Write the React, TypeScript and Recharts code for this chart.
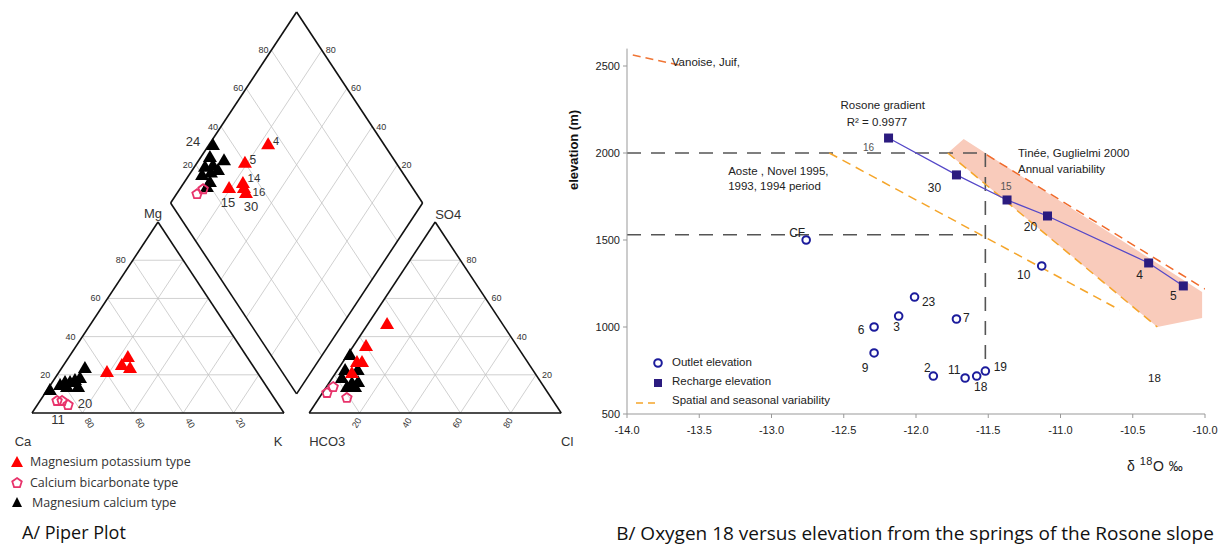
import React from "react";
import {
  Area,
  ComposedChart,
  Line,
  ReferenceLine,
  Scatter,
  ScatterChart,
  XAxis,
  YAxis,
} from "recharts";

const FONT = "'Liberation Sans', Arial, sans-serif";
const TITLE_FONT = "'Open Sans', 'Noto Sans', sans-serif";
const H = Math.sqrt(3) / 2;
const PIPER_TICKS = [20, 40, 60, 80];

// cation triangle, [Mg %, Na+K %]
const catMgK = [[21.5, 19.0], [25.1, 23.1], [29.3, 23.4], [23.6, 27.1]];
const catCaHCO3 = [[6.3, 6.8], [6.3, 8.8], [4.2, 12.2]];
const catMgCa = [
  [12.0, 1.1], [23.6, 9.2], [16.2, 5.0], [16.2, 7.0], [17.3, 8.4],
  [18.3, 9.9], [14.7, 3.8], [13.6, 7.1], [13.6, 11.5],
];

// anion triangle, [SO4 %, Cl %]
const aniMgK = [[46.6, 7.6], [35.1, 5.0], [26.7, 5.6], [26.7, 7.6], [20.9, 6.5]];
const aniCaHCO3 = [[10.5, 1.8], [13.6, 2.7], [7.9, 11.0]];
const aniMgCa = [
  [30.4, 1.0], [22.5, 3.0], [18.3, 3.8], [15.7, 9.1], [16.2, 11.3],
  [13.6, 8.2], [13.6, 11.4], [22.5, 8.0],
];

// diamond, [Na+K %, Cl+SO4 %]
const diaMgKIds = ["4", "5", "14", "15", "16", "30"];
const diaMgK = [[23.3, 54.1], [19.0, 40.0], [23.5, 33.9], [19.3, 27.1], [25.2, 33.0], [27.3, 32.5]];
const diaCaHCO3 = [[9.3, 16.5], [8.2, 12.8]];
const diaMgCa = [
  [1.6, 32], [3.6, 27.6], [10, 32.4], [4.2, 23.1], [6.9, 26.7],
  [5.2, 19.8], [10.2, 27.4], [10.1, 21.1], [10.2, 18.6], [8, 24],
];

// right panel
const O18_TICKS = [-14, -13.5, -13, -12.5, -12, -11.5, -11, -10.5, -10];
const ELEV_TICKS = [500, 1000, 1500, 2000, 2500];

const outletIds = ["CF", "23", "3", "6", "7", "9", "2", "11", "18", "19", "10"];
const outletO18 = [-12.76, -12.01, -12.12, -12.29, -11.72, -12.29, -11.88, -11.66, -11.58, -11.52, -11.13];
const outletElev = [1500, 1172, 1063, 1000, 1046, 851, 718, 707, 718, 747, 1351];

const rechargeIds = ["16", "30", "15", "20", "4", "5"];
const rechargeO18 = [-12.19, -11.72, -11.37, -11.09, -10.39, -10.15];
const rechargeElev = [2086, 1874, 1730, 1638, 1368, 1236];

const vanoise = [[-13.96, 2563], [-13.61, 2500]];
const aoste = [[-12.6, 2000], [-10.59, 1098]];
const tineeLow = [[-11.78, 2000], [-10.33, 1000]];
const tineeHigh = [[-11.51, 1989], [-10.0, 1218]];

const bandO18 = [-11.78, -11.67, -10.33, -10.02];
const bandLow = [2000, 1924, 1000, 1052];
const bandHigh = [2000, 2080, 1366, 1201];

const refElev = [2000, 1530];
const refO18 = -11.52;
const refBottom = 760;

// ---- piper geometry (triangle side = 100 units) ----
type P = { x: number; y: number };
const cat = ([mg, k]: number[]): P => ({ x: k + mg / 2, y: mg * H });
const ani = ([so4, cl]: number[]): P => ({ x: 110 + cl + so4 / 2, y: so4 * H });
const dia = ([u, v]: number[]): P => ({ x: 55 + (u + v) / 2, y: 110 * H + (v - u) * H });

const segs: { a: P; b: P; grid: boolean }[] = [];
[0, 110].forEach((ox) => {
  PIPER_TICKS.forEach((k) => {
    segs.push({ a: { x: ox + k / 2, y: k * H }, b: { x: ox + 100 - k / 2, y: k * H }, grid: true });
    segs.push({ a: { x: ox + k, y: 0 }, b: { x: ox + k + (100 - k) / 2, y: (100 - k) * H }, grid: true });
    segs.push({ a: { x: ox + 100 - k, y: 0 }, b: { x: ox + (100 - k) / 2, y: (100 - k) * H }, grid: true });
  });
  const c = [{ x: ox, y: 0 }, { x: ox + 100, y: 0 }, { x: ox + 50, y: 100 * H }];
  c.forEach((p, i) => segs.push({ a: p, b: c[(i + 1) % 3], grid: false }));
});
PIPER_TICKS.forEach((k) => {
  segs.push({ a: dia([k, 0]), b: dia([k, 100]), grid: true });
  segs.push({ a: dia([0, k]), b: dia([100, k]), grid: true });
});
const dc = [dia([0, 0]), dia([100, 0]), dia([100, 100]), dia([0, 100])];
dc.forEach((p, i) => segs.push({ a: p, b: dc[(i + 1) % 4], grid: false }));

type Lbl = P & { t: string; dx?: number; dy?: number; anchor?: string; rot?: number; size?: number; fill?: string };

const piperLabels: Lbl[] = [];
PIPER_TICKS.forEach((k) => {
  piperLabels.push({ ...cat([k, 0]), t: String(k), dx: -7, dy: 0, anchor: "end" });
  piperLabels.push({ ...cat([0, 100 - k]), t: String(k), dx: 7, dy: 10, rot: 60 });
  piperLabels.push({ ...ani([0, k]), t: String(k), dx: -3, dy: 10, rot: -60 });
  piperLabels.push({ ...ani([k, 100 - k]), t: String(k), dx: 6, dy: 0, anchor: "start" });
  piperLabels.push({ ...dia([0, k]), t: String(k), dx: -3, dy: 0, anchor: "end" });
  piperLabels.push({ ...dia([100 - k, 100]), t: String(k), dx: 4, dy: 0, anchor: "start" });
});
const corner = (p: P, t: string, dx: number, dy: number): Lbl => ({ ...p, t, dx, dy, size: 13 });
piperLabels.push(
  corner({ x: 50, y: 100 * H }, "Mg", -5, -9),
  corner({ x: 160, y: 100 * H }, "SO4", 13, -8),
  corner({ x: 0, y: 0 }, "Ca", -9, 28),
  corner({ x: 100, y: 0 }, "K", -6, 28),
  corner({ x: 110, y: 0 }, "HCO3", 18, 28),
  corner({ x: 210, y: 0 }, "Cl", 6, 28),
);
// sample numbers
const sampleOffsets: Record<string, [number, number, number]> = {
  "4": [8, -3, 11], "5": [8, -3, 12], "14": [11, -5, 11.5],
  "15": [-1, 14, 13], "16": [15, 4, 11.5], "30": [5, 13, 13],
};
diaMgK.forEach((d, i) => {
  const [dx, dy, size] = sampleOffsets[diaMgKIds[i]];
  piperLabels.push({ ...dia(d), t: diaMgKIds[i], dx, dy, size });
});
piperLabels.push({ ...dia(diaMgCa[0]), t: "24", dx: -20, dy: -3, size: 13 });
piperLabels.push({ ...cat(catCaHCO3[2]), t: "20", dx: 17, dy: -1, size: 13 });
piperLabels.push({ ...cat(catCaHCO3[0]), t: "11", dx: 1, dy: 19, size: 13 });

function TextMark(props: any) {
  const { cx, cy, payload } = props;
  if (cx == null || cy == null) return null;
  const x = cx + (payload.dx ?? 0);
  const y = cy + (payload.dy ?? 0);
  return (
    <text
      x={x}
      y={y}
      textAnchor={payload.anchor ?? "middle"}
      dominantBaseline="central"
      fontSize={payload.size ?? 9}
      fill={payload.fill ?? "#333"}
      fontFamily={FONT}
      transform={payload.rot ? `rotate(${payload.rot} ${x} ${y})` : undefined}
    >
      {payload.t}
    </text>
  );
}

const triShape = (fill: string) => (p: any) =>
  <polygon points={`${p.cx},${p.cy - 7} ${p.cx + 7},${p.cy + 5} ${p.cx - 7},${p.cy + 5}`} fill={fill} />;

const pentaPts = (cx: number, cy: number, r: number) =>
  [0, 1, 2, 3, 4]
    .map((i) => {
      const a = ((-90 + 72 * i) * Math.PI) / 180;
      return `${cx + r * Math.cos(a)},${cy + r * Math.sin(a)}`;
    })
    .join(" ");
const pentaShape = (p: any) =>
  <polygon points={pentaPts(p.cx, p.cy, 5)} fill="none" stroke="#e8336b" strokeWidth={1.8} />;

const RED = "#ff0000";
const PINK = "#e8336b";

function PiperPlot() {
  const mgK = [...catMgK.map(cat), ...aniMgK.map(ani), ...diaMgK.map(dia)];
  const caHCO3 = [...catCaHCO3.map(cat), ...aniCaHCO3.map(ani), ...diaCaHCO3.map(dia)];
  const mgCa = [...catMgCa.map(cat), ...aniMgCa.map(ani), ...diaMgCa.map(dia)];
  return (
    <ScatterChart width={590} height={545} margin={{ top: 12, right: 28.8, bottom: 132, left: 32 }}>
      <XAxis type="number" dataKey="x" domain={[0, 210]} hide />
      <YAxis type="number" dataKey="y" domain={[0, 210 * H]} hide />
      {segs.map((s, i) => (
        <ReferenceLine
          key={i}
          segment={[s.a, s.b]}
          stroke={s.grid ? "#c4c4c4" : "#111"}
          strokeWidth={s.grid ? 0.8 : 1.6}
          ifOverflow="visible"
        />
      ))}
      <Scatter data={mgCa} shape={triShape("#000")} isAnimationActive={false} />
      <Scatter data={mgK} shape={triShape(RED)} isAnimationActive={false} />
      <Scatter data={caHCO3} shape={pentaShape} isAnimationActive={false} />
      <Scatter data={piperLabels} shape={TextMark} isAnimationActive={false} />
    </ScatterChart>
  );
}

// ---- right panel ----
const toPts = (xs: number[], ys: number[]) => xs.map((x, i) => ({ x, y: ys[i] }));
const pairPts = (a: number[][]) => a.map(([x, y]) => ({ x, y }));

const outletLabelPos: Record<string, [number, number]> = {
  CF: [-9, -7], "23": [14, 5], "3": [-2, 11], "6": [-13, 3], "7": [10, -1], "9": [-9, 15],
  "2": [-6, -8], "11": [-11, -8], "18": [4, 11], "19": [15, -4], "10": [-18, 9],
};
const rechargeLabelPos: Record<string, [number, number, number, string]> = {
  "16": [-20, 9, 10, "#555"], "30": [-22, 13, 12, "#222"], "15": [-1, -13, 10, "#555"],
  "20": [-17, 11, 12, "#222"], "4": [-9, 12, 12, "#222"], "5": [-10, 10, 12, "#222"],
};

const notes: Lbl[] = [
  { x: -13.69, y: 2523, t: "Vanoise, Juif,", anchor: "start" },
  { x: -12.23, y: 2276, t: "Rosone gradient" },
  { x: -12.27, y: 2178, t: "R² = 0.9977" },
  { x: -11.294, y: 2000, t: "Tinée, Guglielmi 2000", anchor: "start" },
  { x: -11.294, y: 1908, t: "Annual variability", anchor: "start" },
  { x: -13.3, y: 1897, t: "Aoste , Novel 1995,", anchor: "start" },
  { x: -13.3, y: 1810, t: "1993, 1994 period", anchor: "start" },
  { x: -10.35, y: 707, t: "18" },
];

const circleShape = (p: any) =>
  <circle cx={p.cx} cy={p.cy} r={3.8} fill="#fff" stroke="#1c1c9c" strokeWidth={2} />;
const squareShape = (p: any) =>
  <rect x={p.cx - 4.5} y={p.cy - 4.5} width={9} height={9} fill="#2b1b7f" />;

function IsotopeChart() {
  const band = bandO18.map((x, i) => ({ x, range: [bandLow[i], bandHigh[i]] }));
  const outlets = toPts(outletO18, outletElev);
  const recharge = toPts(rechargeO18, rechargeElev);
  const labels: Lbl[] = [
    ...outlets.map((p, i) => {
      const [dx, dy] = outletLabelPos[outletIds[i]];
      return { ...p, t: outletIds[i], dx, dy, size: 12, fill: "#222" };
    }),
    ...recharge.map((p, i) => {
      const [dx, dy, size, fill] = rechargeLabelPos[rechargeIds[i]];
      return { ...p, t: rechargeIds[i], dx, dy, size, fill };
    }),
    ...notes.map((n) => ({ ...n, size: 11.5, fill: "#222" })),
  ];
  const dash = { stroke: "#555", strokeWidth: 1.6, strokeDasharray: "14 10" };
  const tick = { fontSize: 11, fill: "#222", fontFamily: FONT };
  return (
    <ComposedChart width={662} height={545} data={band} margin={{ top: 48.6, right: 17, bottom: 101, left: 12 }}>
      <XAxis
        type="number"
        dataKey="x"
        domain={[-14, -10]}
        ticks={O18_TICKS}
        tickFormatter={(v: number) => v.toFixed(1)}
        allowDataOverflow
        height={30}
        axisLine={{ stroke: "#999" }}
        tickLine={{ stroke: "#999" }}
        tickSize={4}
        tickMargin={8}
        tick={tick}
      />
      <YAxis
        type="number"
        dataKey="y"
        domain={[500, 2600]}
        ticks={ELEV_TICKS}
        allowDataOverflow
        width={55}
        axisLine={{ stroke: "#999" }}
        tickLine={{ stroke: "#999" }}
        tickSize={4}
        tickMargin={3}
        tick={tick}
      />
      <Area dataKey="range" type="linear" fill="#f9cbbb" fillOpacity={1} stroke="none" isAnimationActive={false} />
      {refElev.map((e) => (
        <ReferenceLine key={e} segment={[{ x: -14, y: e }, { x: refO18, y: e }]} {...dash} />
      ))}
      <ReferenceLine segment={[{ x: refO18, y: refElev[0] }, { x: refO18, y: refBottom }]} {...dash} />
      <Line data={pairPts(vanoise)} dataKey="y" type="linear" stroke="#f07535" strokeWidth={1.5} strokeDasharray="8 5" dot={false} isAnimationActive={false} />
      <Line data={pairPts(aoste)} dataKey="y" type="linear" stroke="#f5a52a" strokeWidth={1.5} strokeDasharray="9 6" dot={false} isAnimationActive={false} />
      <Line data={pairPts(tineeLow)} dataKey="y" type="linear" stroke="#f5a52a" strokeWidth={1.5} strokeDasharray="9 6" dot={false} isAnimationActive={false} />
      <Line data={pairPts(tineeHigh)} dataKey="y" type="linear" stroke="#f06a2a" strokeWidth={1.5} strokeDasharray="9 6" dot={false} isAnimationActive={false} />
      <Line data={recharge} dataKey="y" type="linear" stroke="#5548c8" strokeWidth={1.3} dot={false} isAnimationActive={false} />
      <Scatter data={recharge} shape={squareShape} isAnimationActive={false} />
      <Scatter data={outlets} shape={circleShape} isAnimationActive={false} />
      <Scatter data={labels} shape={TextMark} isAnimationActive={false} />
    </ComposedChart>
  );
}

const abs = (left: number, top: number): React.CSSProperties => ({ position: "absolute", left, top });

export default function App() {
  const legendText: React.CSSProperties = { fontFamily: TITLE_FONT, fontSize: 12.5, color: "#333", whiteSpace: "nowrap" };
  const rLegend: React.CSSProperties = { fontFamily: FONT, fontSize: 11.5, color: "#222", whiteSpace: "nowrap" };
  return (
    <div style={{ position: "absolute", left: 0, top: 0, width: 1222, height: 545, background: "#fff", overflow: "hidden" }}>
      <div style={abs(0, 0)}>
        <PiperPlot />
      </div>
      <div style={abs(560, 0)}>
        <IsotopeChart />
      </div>

      {/* left legend */}
      <svg style={abs(0, 450)} width={30} height={60}>
        <polygon points="17,6 23,17 11,17" fill={RED} />
        <polygon points={pentaPts(17, 33, 5)} fill="none" stroke={PINK} strokeWidth={1.8} />
        <polygon points="17,47 22,57 12,57" fill="#000" />
      </svg>
      <div style={{ ...abs(30, 453), ...legendText }}>Magnesium potassium type</div>
      <div style={{ ...abs(30, 474), ...legendText }}>Calcium bicarbonate type</div>
      <div style={{ ...abs(32, 494), ...legendText }}>Magnesium calcium type</div>

      {/* right legend */}
      <svg style={abs(630, 352)} width={40} height={60}>
        <circle cx={28} cy={11} r={3.8} fill="#fff" stroke="#1c1c9c" strokeWidth={2} />
        <rect x={24} y={27} width={8} height={8} fill="#2b1b7f" />
        <line x1={6} y1={51} x2={30} y2={51} stroke="#f5a52a" strokeWidth={1.5} strokeDasharray="7 5" />
      </svg>
      <div style={{ ...abs(672, 356), ...rLegend }}>Outlet elevation</div>
      <div style={{ ...abs(672, 375), ...rLegend }}>Recharge elevation</div>
      <div style={{ ...abs(672, 394), ...rLegend }}>Spatial and seasonal variability</div>

      {/* axis titles */}
      <div
        style={{
          ...abs(573, 150),
          transform: "translate(-50%, -50%) rotate(-90deg)",
          fontFamily: FONT,
          fontSize: 13,
          fontWeight: "bold",
          color: "#111",
          whiteSpace: "nowrap",
        }}
      >
        elevation (m)
      </div>
      <div style={{ ...abs(1127, 455), fontFamily: FONT, fontSize: 14, color: "#222", whiteSpace: "nowrap", letterSpacing: 0.5 }}>
        δ <sup style={{ fontSize: 11 }}>18</sup>O ‰
      </div>

      {/* panel titles */}
      <div style={{ ...abs(22, 520), fontFamily: TITLE_FONT, fontSize: 18, color: "#111", whiteSpace: "nowrap" }}>
        A/ Piper Plot
      </div>
      <div
        style={{
          ...abs(915, 520),
          transform: "translateX(-50%)",
          fontFamily: TITLE_FONT,
          fontSize: 19,
          color: "#111",
          whiteSpace: "nowrap",
        }}
      >
        B/ Oxygen 18 versus elevation from the springs of the Rosone slope
      </div>
    </div>
  );
}
